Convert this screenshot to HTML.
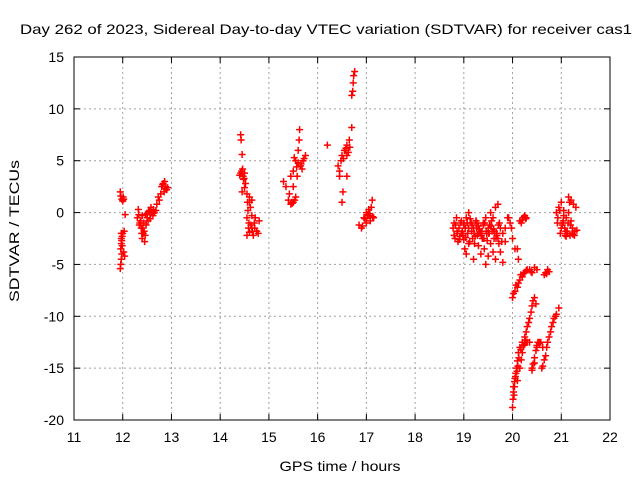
<!DOCTYPE html>
<html><head><meta charset="utf-8"><style>
body{margin:0;background:#fff;}
svg{display:block;font-family:"Liberation Sans",sans-serif;}
</style></head><body>
<svg id="chart" width="640" height="480" xmlns="http://www.w3.org/2000/svg">
<rect width="640" height="480" fill="#fff"/>
<text x="326" y="34" font-size="14" text-anchor="middle" textLength="612" lengthAdjust="spacingAndGlyphs">Day 262 of 2023, Sidereal Day-to-day VTEC variation (SDTVAR) for receiver cas1</text>
<text x="340" y="471" font-size="14" text-anchor="middle" textLength="121" lengthAdjust="spacingAndGlyphs">GPS time / hours</text>
<text x="19" y="231" font-size="14" text-anchor="middle" textLength="142" lengthAdjust="spacingAndGlyphs" transform="rotate(-90 19 231)">SDTVAR / TECUs</text>
<g id="grid"></g>
<g id="ticks"></g>
<g id="points"></g>
<rect x="74" y="57" width="536" height="363" fill="none" stroke="#000" stroke-width="1"/>
</svg>
<script>
const xTicks=[11,12,13,14,15,16,17,18,19,20,21,22];
const yTicks=[15,10,5,0,-5,-10,-15,-20];
const pointX=[
11.95,11.96,11.97,11.96,11.97,11.98,11.99,12.0,12.02,12.03,11.99,11.95,11.96,11.98,12.0,12.02,12.05,12.04,11.97,12.01,11.98,11.97,12.0,
12.3,12.32,12.35,12.38,12.4,12.42,12.45,12.4,12.37,12.44,12.48,12.5,12.55,12.6,12.62,12.58,12.65,12.52,12.46,12.7,12.73,12.33,12.43,12.5,12.56,12.34,12.39,12.41,12.47,12.53,12.57,12.63,12.68,
12.8,12.83,12.86,12.88,12.9,12.85,12.92,12.78,12.75,12.82,12.87,
14.42,14.43,14.45,14.44,14.4,14.5,14.48,14.5,14.55,14.6,14.62,14.65,14.58,14.55,14.6,14.65,14.7,14.72,14.75,14.8,14.78,14.45,14.55,14.6,14.65,14.47,14.52,14.57,14.68,14.63,14.42,14.46,14.49,14.56,14.59,14.66,14.71,
15.3,15.35,15.4,15.45,15.5,15.55,15.5,15.5,15.55,15.6,15.62,15.63,15.58,15.65,15.7,15.75,15.52,15.45,15.42,15.48,15.6,15.68,15.47,15.53,15.57,15.66,15.72,
16.2,16.45,16.48,16.5,16.55,16.6,16.65,16.7,16.5,16.52,16.45,16.6,16.6,16.7,16.72,16.73,16.74,16.76,16.42,16.58,16.63,16.53,16.57,16.66,
16.85,16.9,16.95,17.0,17.05,17.1,17.12,17.15,17.08,17.0,17.05,16.92,17.02,16.97,17.07,17.13,
18.8,18.85,18.9,18.95,19.0,19.05,19.1,19.15,19.2,19.25,19.3,19.35,19.4,19.45,19.5,19.55,19.6,19.65,19.7,19.75,
18.82,18.88,18.92,19.0,19.08,19.12,19.18,19.22,19.28,19.33,19.38,19.42,19.48,19.52,19.58,19.62,19.68,19.72,19.78,19.85,19.9,
18.95,19.02,19.05,19.1,19.2,19.3,19.35,19.45,19.5,19.55,19.6,19.65,19.7,19.75,19.8,19.85,19.0,19.25,19.4,
18.78,18.83,18.87,18.93,18.98,19.03,19.07,19.13,19.17,19.23,19.27,19.32,19.37,19.43,19.47,19.53,19.57,19.63,19.67,19.73,19.8,
18.8,18.86,18.91,18.97,19.04,19.1,19.16,19.21,19.26,19.31,19.36,19.41,19.46,19.51,19.56,19.61,19.66,19.71,
19.95,20.0,20.05,20.1,20.12,20.15,20.18,20.22,20.25,20.28,19.92,19.98,20.2,20.24,20.27,
20.0,20.05,20.1,20.15,20.2,20.25,20.3,20.35,20.4,20.45,20.5,20.02,20.07,20.12,20.17,20.22,20.28,20.38,
20.0,20.01,20.02,20.04,20.05,20.07,20.08,20.1,20.12,20.15,20.2,20.25,20.3,20.35,20.03,20.06,20.02,20.04,20.09,20.11,20.13,20.17,20.22,20.27,
20.1,20.15,20.2,20.25,20.3,20.35,20.4,20.42,20.45,20.48,20.18,20.23,20.28,20.33,20.38,
20.4,20.45,20.5,20.55,20.6,20.65,20.7,20.75,20.8,20.85,20.9,20.95,20.62,20.68,20.72,20.78,20.83,20.88,
20.4,20.45,20.5,20.52,20.58,20.62,20.65,20.68,20.72,20.75,20.42,20.48,20.55,20.7,
20.9,20.95,21.0,21.05,21.1,21.15,21.2,21.25,21.3,20.92,20.98,21.02,21.08,21.12,21.18,21.22,21.28,21.05,21.15,21.0,21.1,21.2,
20.93,20.97,21.03,21.07,21.13,21.17,21.23,21.27,21.32,21.04,21.09,21.14,21.19,21.24
];
const pointY=[
-5.4,-5.0,-4.5,-3.5,-3.0,-2.7,-2.3,-2.0,-3.8,-1.8,-3.2,2.0,1.6,1.3,1.1,1.3,-0.2,-4.2,-2.5,1.5,-4.0,-2.0,1.2,
-0.5,0.3,-1.0,-1.5,-2.5,-2.0,-2.8,-0.3,-0.8,-1.8,-1.2,-0.5,0.2,0.0,-0.3,0.5,0.0,-0.8,-2.2,0.8,1.5,-0.2,-1.0,-0.1,-0.6,-1.2,-2.0,-1.5,-0.2,0.1,-0.2,0.3,0.2,
2.5,2.8,3.0,2.5,2.2,2.0,2.4,1.8,1.2,2.7,2.3,
7.5,7.0,5.6,4.0,3.6,3.8,3.2,2.4,1.8,1.0,0.5,-0.3,-1.5,-2.2,-1.9,-1.5,-1.0,-0.5,-1.8,-0.8,-2.0,2.0,-0.5,1.5,1.2,3.5,2.8,0.2,-2.2,-1.2,3.8,4.2,3.3,1.0,-1.0,-1.8,-1.5,
3.0,2.5,1.2,0.8,1.0,1.5,2.5,4.0,5.0,6.0,7.0,8.0,3.5,4.5,5.0,5.5,5.3,3.5,1.8,0.9,4.8,4.2,1.0,1.2,4.4,4.7,5.2,
6.5,4.0,5.0,5.5,6.0,6.5,7.0,8.2,1.0,2.0,3.5,3.5,5.5,11.3,11.7,12.5,13.2,13.6,4.5,6.2,5.8,5.2,6.0,6.3,
-1.2,-1.5,-0.5,0.0,-0.3,0.5,1.2,-0.5,-0.8,-1.0,0.3,-1.3,-0.2,-0.6,-0.1,-0.4,
-1.0,-0.5,-1.5,-0.8,-1.2,-0.5,0.0,-1.0,-1.5,-0.8,-1.3,-2.0,-1.0,-0.5,-1.5,0.0,-0.5,0.5,0.8,-1.5,
-2.5,-2.8,-2.3,-2.6,-2.0,-2.8,-2.5,-3.0,-2.2,-1.8,-2.5,-3.5,-2.7,-2.0,-1.8,-2.5,-2.2,-3.0,-2.8,-1.5,-0.5,
-2.0,-3.5,-4.0,-3.0,-4.5,-3.2,-4.0,-5.0,-4.2,-3.0,-3.8,-4.5,-2.5,-3.8,-4.8,-2.8,-1.0,-0.8,-1.2,
-1.5,-1.2,-2.0,-1.0,-2.2,-1.5,-1.0,-0.6,-1.2,-2.3,-1.0,-1.6,-1.8,-1.0,-2.0,-1.2,-0.8,-1.8,-2.0,-1.0,-2.0,
-2.2,-1.8,-2.6,-1.8,-2.4,-1.5,-1.8,-2.0,-1.5,-2.0,-2.2,-2.5,-1.8,-2.0,-1.3,-1.6,-2.5,-1.2,
-1.0,-2.5,-3.5,-3.5,-4.5,-0.8,-1.0,-0.5,-0.3,-0.5,-0.5,-1.5,-0.7,-0.4,-0.6,
-8.2,-7.6,-7.2,-6.5,-6.2,-5.8,-5.5,-5.5,-5.8,-5.3,-5.5,-7.8,-7.0,-6.8,-6.0,-5.9,-5.6,-5.7,
-18.8,-18.0,-17.3,-16.8,-16.0,-15.5,-15.0,-14.3,-13.5,-13.0,-12.5,-12.7,-12.5,-12.5,-17.6,-15.8,-16.8,-16.3,-15.3,-14.8,-14.0,-13.2,-12.8,-12.3,
-16.2,-15.0,-13.5,-12.0,-11.0,-10.2,-9.0,-8.5,-8.2,-8.8,-14.2,-12.8,-11.5,-10.6,-9.6,
-15.0,-14.5,-13.0,-12.5,-15.0,-14.2,-13.0,-12.0,-11.0,-10.2,-9.8,-9.2,-14.8,-13.8,-12.5,-11.5,-10.6,-10.0,
-15.2,-14.0,-12.8,-12.5,-12.5,-13.0,-6.0,-5.8,-5.5,-5.7,-14.6,-13.3,-12.6,-5.9,
0.0,0.5,1.0,0.2,-0.5,1.5,1.2,0.8,0.5,-1.0,-2.0,-1.2,-2.2,-1.8,-2.2,-2.0,-1.8,-0.3,0.0,-1.5,-2.3,-0.8,
-0.5,0.2,-1.0,-1.5,-2.0,1.0,-1.5,-2.2,-1.7,-0.8,-1.8,-1.0,-1.2,-2.1
];
const X0=74,X1=610,Y0=420,Y1=57;
const xMin=11,xMax=22,yMin=-20,yMax=15;
function sx(v){return X0+(v-xMin)/(xMax-xMin)*(X1-X0);}
function sy(v){return Y0-(v-yMin)/(yMax-yMin)*(Y0-Y1);}
const NS="http://www.w3.org/2000/svg";
function mk(tag,attrs,parent){const e=document.createElementNS(NS,tag);for(const k in attrs)e.setAttribute(k,attrs[k]);parent.appendChild(e);return e;}
const grid=document.getElementById('grid'),ticks=document.getElementById('ticks'),pts=document.getElementById('points');
xTicks.forEach(t=>{
  const x=sx(t);
  if(t>xMin&&t<xMax){const g=mk('line',{x1:x,x2:x,y1:Y1,y2:Y0,stroke:'#a0a0a0','stroke-dasharray':'2,3'},grid);
  
  }
  mk('line',{x1:x,x2:x,y1:Y0,y2:Y0-6,stroke:'#000'},ticks);
  mk('line',{x1:x,x2:x,y1:Y1,y2:Y1+6,stroke:'#000'},ticks);
  const tx=mk('text',{x:x,y:442,'font-size':14,'text-anchor':'middle'},ticks);
  tx.textContent=t;
  
  
});
yTicks.forEach(t=>{
  const y=sy(t);
  if(t>yMin&&t<yMax){const g=mk('line',{x1:X0,x2:X1,y1:y,y2:y,stroke:'#a0a0a0','stroke-dasharray':'2,3'},grid);
  
  }
  mk('line',{x1:X0,x2:X0+6,y1:y,y2:y,stroke:'#000'},ticks);
  mk('line',{x1:X1,x2:X1-6,y1:y,y2:y,stroke:'#000'},ticks);
  const tx=mk('text',{x:64,y:y+5,'font-size':14,'text-anchor':'end'},ticks);
  tx.textContent=t;
  
  
});
for(let i=0;i<pointX.length;i++){
  const x=sx(pointX[i]),y=sy(pointY[i]);
  const p=mk('path',{d:`M${x-3.5} ${y}H${x+3.5}M${x} ${y-3.5}V${y+3.5}`,stroke:'#ff0000','stroke-width':1.5,fill:'none'},pts);
  
  
}
</script>
</body></html>
